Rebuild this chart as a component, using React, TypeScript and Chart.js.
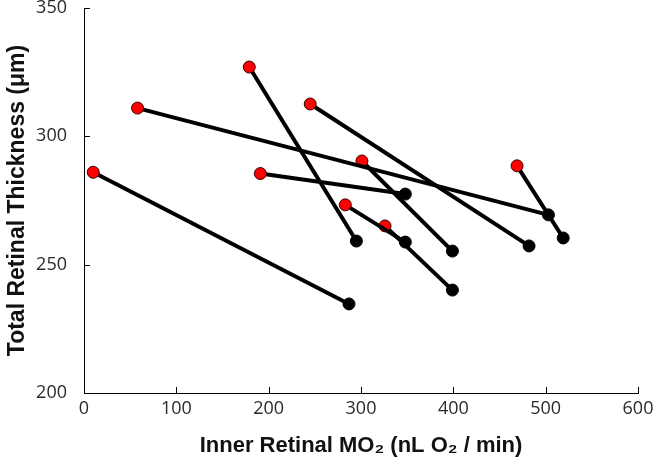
import React, { useEffect, useRef } from "react";
import { Chart, registerables } from "chart.js";

Chart.register(...registerables);

const redX = [10, 58, 179, 245, 191, 301, 283, 326, 469];
const redY = [286, 311, 327, 312.6, 285.5, 290.4, 273.3, 265.1, 288.5];
const blackX = [287, 503, 295, 482, 348, 399, 348, 399, 519];
const blackY = [234.7, 269.4, 259.2, 257.3, 277.5, 255.3, 258.8, 240.1, 260.4];

const xTicks = [0, 100, 200, 300, 400, 500, 600];
const yTicks = [200, 250, 300, 350];

const innerTicks = {
  id: "innerTicks",
  afterDatasetsDraw(chart: any) {
    const ctx = chart.ctx;
    const xs = chart.scales.x;
    const ys = chart.scales.y;
    const area = chart.chartArea;
    ctx.save();
    ctx.strokeStyle = "#000";
    ctx.lineWidth = 1;
    ctx.beginPath();
    xTicks.forEach((v) => {
      const px = Math.round(xs.getPixelForValue(v)) + 0.5;
      ctx.moveTo(px, area.bottom);
      ctx.lineTo(px, area.bottom - 6);
    });
    yTicks.forEach((v) => {
      const py = Math.round(ys.getPixelForValue(v)) + 0.5;
      ctx.moveTo(area.left, py);
      ctx.lineTo(area.left + 6, py);
    });
    ctx.stroke();
    ctx.restore();
  },
};

export default function App() {
  const ref = useRef<HTMLCanvasElement | null>(null);
  useEffect(() => {
    document.body.style.margin = "0";
    const datasets = redX.map((_, i) => ({
      type: "line" as const,
      data: [
        { x: redX[i], y: redY[i] },
        { x: blackX[i], y: blackY[i] },
      ],
      borderColor: "#000",
      borderWidth: 4,
      pointRadius: 6,
      pointBorderWidth: 1,
      pointBackgroundColor: ["#ff0000", "#000000"],
      pointBorderColor: ["#3a0000", "#000000"],
      showLine: true,
      fill: false,
    }));
    const chart = new Chart(ref.current as HTMLCanvasElement, {
      type: "line",
      data: { datasets },
      plugins: [innerTicks],
      options: {
        animation: false,
        responsive: false,
        layout: { padding: { left: 0, top: 8, right: 17, bottom: 0 } },
        plugins: { legend: { display: false }, tooltip: { enabled: false } },
        scales: {
          x: {
            type: "linear",
            min: 0,
            max: 600,
            afterBuildTicks: (s: any) => {
              s.ticks = xTicks.map((v) => ({ value: v }));
            },
            afterFit: (s: any) => {
              s.height = 71;
              s.paddingLeft = 0;
              s.paddingRight = 0;
            },
            grid: { display: false, drawTicks: false },
            border: { display: true, color: "#000", width: 1 },
            ticks: {
              padding: 5,
              color: "#2a2a2a",
              font: { family: "Open Sans", size: 18 },
            },
            title: {
              display: true,
              text: "Inner Retinal MO₂ (nL O₂ / min)",
              color: "#111",
              font: { family: "Liberation Sans", size: 22, weight: "bold" },
              padding: { top: 2, bottom: 5 },
            },
          },
          y: {
            type: "linear",
            min: 200,
            max: 350,
            afterBuildTicks: (s: any) => {
              s.ticks = yTicks.map((v) => ({ value: v }));
            },
            afterFit: (s: any) => {
              s.width = 84;
              s.paddingTop = 0;
              s.paddingBottom = 0;
            },
            grid: { display: false, drawTicks: false },
            border: { display: true, color: "#000", width: 1 },
            ticks: {
              padding: 17,
              color: "#2a2a2a",
              font: { family: "Open Sans", size: 18 },
            },
            title: {
              display: true,
              text: "Total Retinal Thickness (μm)",
              color: "#111",
              font: { family: "Liberation Sans", size: 23, weight: "bold" },
              padding: { top: 4, bottom: 4 },
            },
          },
        },
      } as any,
    });
    return () => chart.destroy();
  }, []);
  return <canvas ref={ref} width={655} height={464} style={{ display: "block" }} />;
}
